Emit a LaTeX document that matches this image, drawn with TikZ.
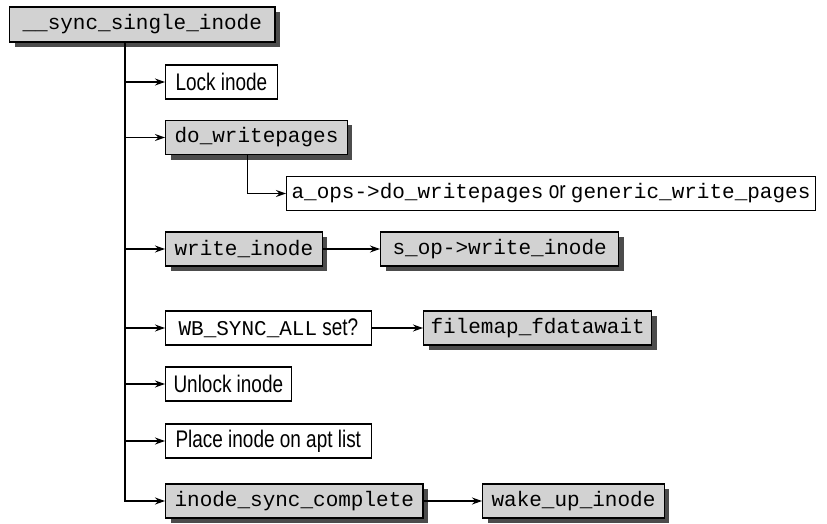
\documentclass[tikz,border=0pt]{standalone}
\usepackage{fontspec}
\setsansfont{Liberation Sans}[FakeStretch=0.79]
\setmonofont{Liberation Mono}
\usetikzlibrary{arrows.meta, positioning, shadows}

\begin{document}
\begin{tikzpicture}[
    x=1pt, y=-1pt,
    box/.style={
        rectangle, draw, line width=1.1pt,
        minimum height=34pt, inner xsep=10pt,
        anchor=west, fill=white,
        font=\fontsize{24}{26}\selectfont\sffamily
    },
    code/.style={font=\fontsize{21}{24}\selectfont\ttfamily},
    call/.style={
        box, code, inner xsep=9pt, fill=gray!35,
        drop shadow={shadow xshift=5pt, shadow yshift=-5pt, fill=black!70, opacity=1}
    },
    arrow/.style={-{Stealth[length=10pt, width=7pt, inset=3.5pt]}, line width=1.3pt},
    spine/.style={line width=2pt}
]
\useasboundingbox (0,0) rectangle (827,524);

% ── Caller ──
\node[call, minimum height=35pt, inner xsep=13pt] (sync) at (9,24.5) {\_\_sync\_single\_inode};
\coordinate (root) at ([xshift=-17pt]sync.south);

% ── Steps ──
\node[box] (lock) at (165,82) {Lock inode};
\node[call] (dowp) at (165,137.5) {do\_writepages};
\node[box, code, inner xsep=5pt] (aops) at (286,193.5) {a\_ops->do\_writepages{\fontsize{24}{26}\selectfont\sffamily\ or\ }generic\_write\_pages};
\node[call] (wrin) at (165,249) {write\_inode};
\node[call, inner xsep=12pt] (sopw) at (380,249) {s\_op->write\_inode};
\node[box, inner xsep=13pt] (wbsync) at (165,328) {{\fontsize{21}{24}\selectfont\ttfamily WB\_SYNC\_ALL} set?};
\node[call, inner xsep=7pt] (fdwait) at (423,328) {filemap\_fdatawait};
\node[box, inner xsep=8pt] (unlock) at (165,384) {Unlock inode};
\node[box] (apt) at (165,441) {Place inode on apt list};
\node[call] (isc) at (165,501) {inode\_sync\_complete};
\node[call] (wake) at (482,501) {wake\_up\_inode};

% ── Connectors ──
\draw[spine, arrow, line width=2pt] (root) |- (isc.west);
\foreach \n in {lock, dowp, wrin, wbsync, unlock, apt}
    \draw[arrow] (root |- \n.west) -- (\n.west);

\draw[arrow] ([xshift=-9pt]dowp.south) |- (aops.west);
\draw[arrow] (wrin) -- (sopw);
\draw[arrow] (wbsync) -- (fdwait);
\draw[arrow] (isc) -- (wake);

\end{tikzpicture}
\end{document}
